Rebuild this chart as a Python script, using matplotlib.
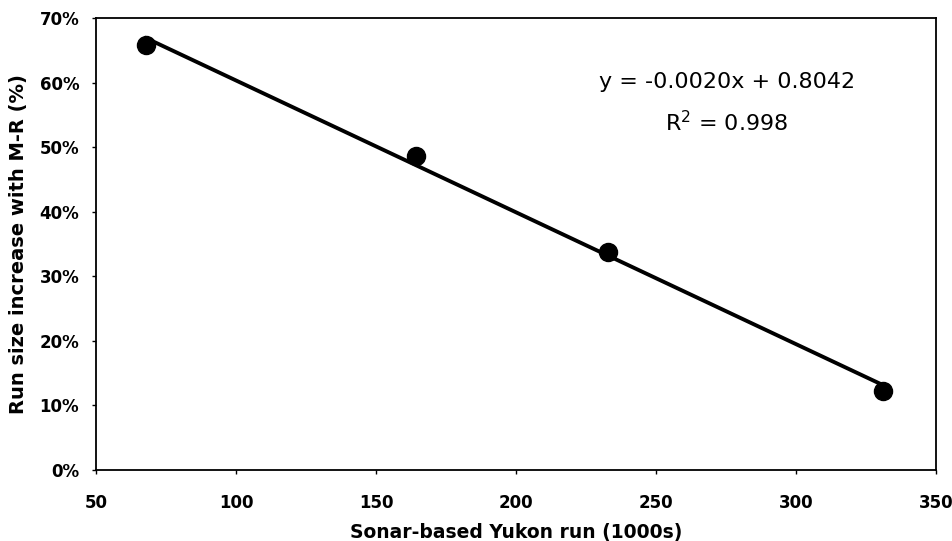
import numpy as np
import matplotlib
matplotlib.use("Agg")
import matplotlib.pyplot as plt
from matplotlib.ticker import PercentFormatter

# data
sonar_run = [68.0, 164.2, 233.0, 331.2]      # 1000s
run_increase = [0.658, 0.486, 0.337, 0.123]  # fraction

x_ticks = [50, 100, 150, 200, 250, 300, 350]
y_ticks = [0.0, 0.1, 0.2, 0.3, 0.4, 0.5, 0.6, 0.7]
eq_text = "y = -0.0020x + 0.8042"
r2_text = "R$^2$ = 0.998"

plt.rcParams['font.family'] = ['DejaVu Sans']

fig = plt.figure(figsize=(9.53, 5.41), dpi=100)
ax = fig.add_axes([0.1007, 0.1312, 0.8814, 0.8355])

# linear trend line across the data range
coef = np.polyfit(sonar_run, run_increase, 1)
xs = np.array([min(sonar_run), max(sonar_run)])
ax.plot(xs, np.polyval(coef, xs), color='black', lw=2.8, zorder=2)
ax.plot(sonar_run, run_increase, 'o', color='black', ms=13, zorder=3)

ax.set_xlim(50, 350)
ax.set_ylim(0, 0.7)
ax.set_xticks(x_ticks)
ax.set_yticks(y_ticks)
ax.yaxis.set_major_formatter(PercentFormatter(1.0, decimals=0))

for lab in ax.get_xticklabels() + ax.get_yticklabels():
    lab.set_fontweight('bold')
ax.tick_params(axis='both', labelsize=12, length=3, width=1, direction='out')
ax.tick_params(axis='x', pad=14)
ax.tick_params(axis='y', pad=9)

for sp in ax.spines.values():
    sp.set_linewidth(1.3)

ax.set_xlabel("Sonar-based Yukon run (1000s)", fontsize=13.5, fontweight='bold', labelpad=8)
ax.set_ylabel("Run size increase with M-R (%)", fontsize=14, fontweight='bold', labelpad=8)

ax.text(0.751, 0.858, eq_text, transform=ax.transAxes, ha='center', va='center', fontsize=16)
ax.text(0.751, 0.768, r2_text, transform=ax.transAxes, ha='center', va='center', fontsize=16)

fig.savefig("out.png", dpi=100)
